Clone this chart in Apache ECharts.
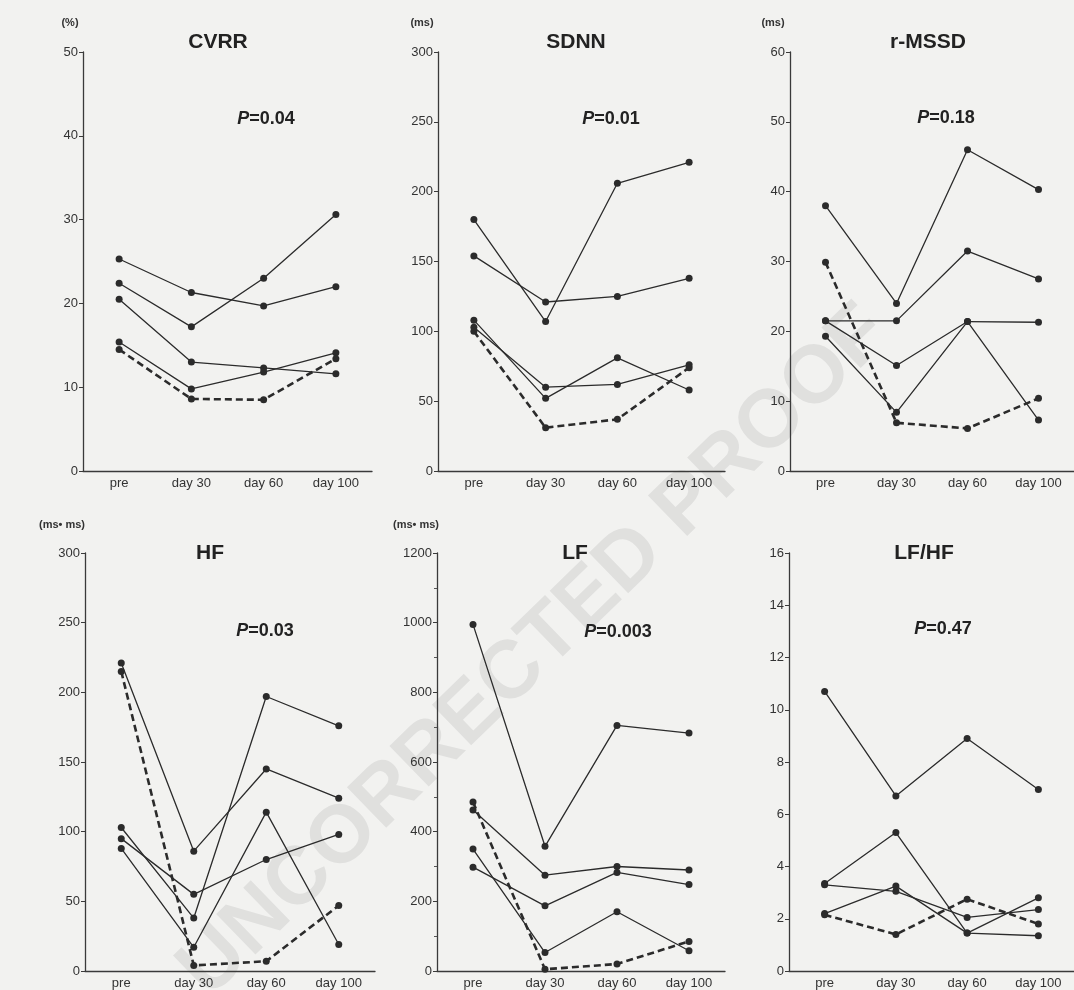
<!DOCTYPE html>
<html>
<head>
<meta charset="utf-8">
<script src="https://cdn.jsdelivr.net/npm/echarts@6/dist/echarts.min.js"></script>
<style>
html,body{margin:0;padding:0;background:#f2f2f0;}
#c{width:1074px;height:990px;}
</style>
</head>
<body>
<div id="c"></div>
<script>
// ---------- DATA ----------
const categories = ['pre', 'day 30', 'day 60', 'day 100'];

const cvrrA = [25.3, 21.3, 19.7, 22.0];
const cvrrB = [22.4, 17.2, 23.0, 30.6];
const cvrrC = [20.5, 13.0, 12.3, 11.6];
const cvrrD = [15.4, 9.8, 11.8, 14.1];
const cvrrDashed = [14.5, 8.6, 8.5, 13.4];

const sdnnA = [180, 107, 206, 221];
const sdnnB = [154, 121, 125, 138];
const sdnnC = [108, 52, 81, 58];
const sdnnD = [103, 60, 62, 76];
const sdnnDashed = [100, 31, 37, 74];

const rmssdA = [38, 24, 46, 40.3];
const rmssdB = [21.5, 21.5, 31.5, 27.5];
const rmssdC = [21.5, 15.1, 21.4, 21.3];
const rmssdD = [19.3, 8.4, 21.4, 7.3];
const rmssdDashed = [29.9, 6.9, 6.1, 10.4];

const hfA = [221, 86, 145, 124];
const hfB = [103, 38, 197, 176];
const hfC = [95, 55, 80, 98];
const hfD = [88, 17, 114, 19];
const hfDashed = [215, 4, 7, 47];

const lfA = [995, 358, 705, 683];
const lfB = [462, 275, 300, 290];
const lfC = [298, 187, 283, 248];
const lfD = [350, 53, 170, 58];
const lfDashed = [485, 5, 20, 85];

const ratioA = [10.7, 6.7, 8.9, 6.95];
const ratioB = [3.35, 5.3, 1.45, 1.35];
const ratioC = [3.3, 3.05, 2.05, 2.35];
const ratioD = [2.2, 3.25, 1.45, 2.8];
const ratioDashed = [2.15, 1.4, 2.75, 1.8];

const panelTitles = ['CVRR', 'SDNN', 'r-MSSD', 'HF', 'LF', 'LF/HF'];
const pValues = ['0.04', '0.01', '0.18', '0.03', '0.003', '0.47'];
const unitLabels = ['(%)', '(ms)', '(ms)', '(ms\u2022 ms)', '(ms\u2022 ms)', ''];
const axisMax = [50, 300, 60, 300, 1200, 16];
const axisInterval = [10, 50, 10, 50, 200, 2];

const solidSets = [
  [cvrrA, cvrrB, cvrrC, cvrrD],
  [sdnnA, sdnnB, sdnnC, sdnnD],
  [rmssdA, rmssdB, rmssdC, rmssdD],
  [hfA, hfB, hfC, hfD],
  [lfA, lfB, lfC, lfD],
  [ratioA, ratioB, ratioC, ratioD]
];
const dashedSets = [cvrrDashed, sdnnDashed, rmssdDashed, hfDashed, lfDashed, ratioDashed];

// ---------- LAYOUT ----------
const layout = [
  {grid:{left:83, top:52, width:289, height:419}, tx:218, ty:42, px:266, py:119, ux:70, uy:23},
  {grid:{left:438, top:52, width:287, height:419}, tx:576, ty:42, px:611, py:119, ux:422, uy:23},
  {grid:{left:790, top:52, width:284, height:419}, tx:928, ty:42, px:946, py:118, ux:773, uy:23},
  {grid:{left:85, top:553, width:290, height:418}, tx:210, ty:553, px:265, py:631, ux:62, uy:525},
  {grid:{left:437, top:553, width:288, height:418}, tx:575, ty:553, px:618, py:632, ux:416, uy:525},
  {grid:{left:789, top:553, width:285, height:418}, tx:924, ty:553, px:943, py:629, ux:0, uy:0}
];

const FONT = '"Liberation Sans", Arial, sans-serif';
const INK = '#2b2b2b';

const grids = [], xAxes = [], yAxes = [], series = [], graphics = [];

graphics.push({
  type: 'text', x: 535, y: 652, rotation: Math.PI * 0.245, z: -10,
  style: {text: 'UNCORRECTED PROOF', fontSize: 82, fontWeight: 'bold', fontFamily: FONT,
          fill: 'rgba(0,0,0,0.075)', align: 'center', verticalAlign: 'middle'}
});

layout.forEach((L, i) => {
  grids.push(L.grid);
  xAxes.push({
    type: 'category', gridIndex: i, data: categories, boundaryGap: true,
    axisLine: {lineStyle: {color: '#3a3a3a', width: 1.3}},
    axisTick: {show: false},
    axisLabel: {color: '#333', fontSize: 13, fontFamily: FONT, margin: 6}
  });
  yAxes.push({
    type: 'value', gridIndex: i, min: 0, max: axisMax[i], interval: axisInterval[i],
    axisLine: {show: true, lineStyle: {color: '#3a3a3a', width: 1.3}},
    axisTick: {show: true, length: 4, lineStyle: {color: '#3a3a3a'}},
    minorTick: {show: i === 4, splitNumber: 2, length: 3, lineStyle: {color: '#555'}},
    splitLine: {show: false},
    axisLabel: {color: '#333', fontSize: 13, fontFamily: FONT, margin: 5,
                formatter: v => String(v)}
  });
  solidSets[i].forEach(arr => {
    series.push({
      type: 'line', xAxisIndex: i, yAxisIndex: i, data: arr,
      symbol: 'circle', symbolSize: 7, z: 3,
      lineStyle: {color: INK, width: 1.3},
      itemStyle: {color: INK}
    });
  });
  series.push({
    type: 'line', xAxisIndex: i, yAxisIndex: i, data: dashedSets[i],
    symbol: 'circle', symbolSize: 7, z: 4,
    lineStyle: {color: INK, width: 2.6, type: [7, 4]},
    itemStyle: {color: INK}
  });
  graphics.push({
    type: 'text', x: L.tx, y: L.ty,
    style: {text: panelTitles[i], fontSize: 21, fontWeight: 'bold', fontFamily: FONT,
            fill: '#222', align: 'center', verticalAlign: 'middle'}
  });
  graphics.push({
    type: 'text', x: L.px, y: L.py,
    style: {text: '{i|P}=' + pValues[i], fontSize: 18, fontWeight: 'bold', fontFamily: FONT,
            fill: '#222', align: 'center', verticalAlign: 'middle',
            rich: {i: {fontStyle: 'italic', fontWeight: 'bold', fontSize: 18, fontFamily: FONT, fill: '#222'}}}
  });
  if (unitLabels[i]) {
    graphics.push({
      type: 'text', x: L.ux, y: L.uy,
      style: {text: unitLabels[i], fontSize: 11, fontWeight: 'bold', fontFamily: FONT, fill: '#333',
              align: 'center', verticalAlign: 'middle'}
    });
  }
});

const chart = echarts.init(document.getElementById('c'), null, {renderer: 'canvas'});
chart.setOption({
  backgroundColor: '#f2f2f0',
  animation: false,
  grid: grids,
  xAxis: xAxes,
  yAxis: yAxes,
  series: series,
  graphic: graphics
});
</script>
</body>
</html>
